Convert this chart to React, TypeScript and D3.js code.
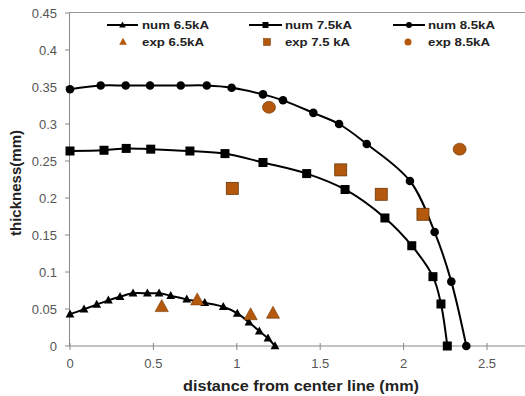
import React from "react";
import * as d3 from "d3";

const num65x = [0, 0.084, 0.16, 0.23, 0.3, 0.378, 0.464, 0.534, 0.604, 0.7, 0.808, 0.919, 1.003, 1.073, 1.135, 1.187, 1.229];
const num65y = [0.043, 0.0496, 0.0559, 0.0617, 0.0666, 0.0712, 0.0712, 0.0712, 0.068, 0.063, 0.0585, 0.053, 0.044, 0.032, 0.02, 0.0104, 0];
const num75x = [0, 0.204, 0.337, 0.484, 0.719, 0.929, 1.157, 1.419, 1.649, 1.888, 2.049, 2.176, 2.224, 2.262];
const num75y = [0.2635, 0.2645, 0.267, 0.266, 0.2635, 0.26, 0.248, 0.233, 0.2115, 0.173, 0.1355, 0.0937, 0.0568, 0];
const num85x = [0, 0.184, 0.334, 0.48, 0.664, 0.82, 0.969, 1.157, 1.277, 1.459, 1.613, 1.779, 2.038, 2.186, 2.286, 2.376];
const num85y = [0.347, 0.352, 0.352, 0.352, 0.352, 0.352, 0.349, 0.34, 0.332, 0.315, 0.3, 0.273, 0.223, 0.154, 0.087, 0];
const exp65x = [0.55, 0.763, 1.083, 1.217];
const exp65y = [0.053, 0.062, 0.042, 0.044];
const exp75x = [0.973, 1.623, 1.866, 2.116];
const exp75y = [0.213, 0.238, 0.205, 0.178];
const exp85x = [1.193, 2.336];
const exp85y = [0.3226, 0.266];
const xTicks = [0, 0.5, 1, 1.5, 2, 2.5];
const yTicks = [0, 0.05, 0.1, 0.15, 0.2, 0.25, 0.3, 0.35, 0.4, 0.45];

const BROWN = "#B3580C";
const FONT = "Liberation Sans, Arial, sans-serif";

const zip = (xs: number[], ys: number[]) => xs.map((x, i) => [x, ys[i]] as [number, number]);

export default function App() {
  const W = 525, H = 396;
  const x = d3.scaleLinear().domain([0, 2.75]).range([70, 70 + 166.8 * 2.75]);
  const y = d3.scaleLinear().domain([0, 0.45]).range([346, 13]);
  const line = d3.line<[number, number]>().x(d => x(d[0])).y(d => y(d[1])).curve(d3.curveCatmullRom.alpha(0.5));
  const tri = (cx: number, cy: number, s: number) =>
    `M${cx},${cy - s * 0.6}L${cx + s * 0.55},${cy + s * 0.4}L${cx - s * 0.55},${cy + s * 0.4}Z`;

  const d65 = zip(num65x, num65y);
  const d75 = zip(num75x, num75y);
  const d85 = zip(num85x, num85y);

  return (
    <svg width={W} height={H} style={{ position: "absolute", left: 0, top: 0, background: "#fff" }} fontFamily={FONT}>
      <rect width={W} height={H} fill="#fff" />
      {/* frame */}
      <line x1={69.5} x2={W} y1={12.5} y2={12.5} stroke="#999" strokeWidth={1} />
      <line x1={69.5} x2={69.5} y1={12.5} y2={346} stroke="#888" strokeWidth={1} />
      <line x1={69.5} x2={W} y1={346} y2={346} stroke="#888" strokeWidth={1} />
      {yTicks.map(t => (
        <g key={"y" + t}>
          <line x1={65} x2={70} y1={y(t)} y2={y(t)} stroke="#888" />
          <text x={57} y={y(t)} dy="0.35em" textAnchor="end" fontSize={13} fill="#555">{String(t)}</text>
        </g>
      ))}
      {xTicks.map(t => (
        <g key={"x" + t}>
          <line x1={x(t)} x2={x(t)} y1={343} y2={350} stroke="#888" />
          <text x={x(t)} y={363} dy="0.35em" textAnchor="middle" fontSize={13} fill="#555">{String(t)}</text>
        </g>
      ))}
      <text x={301} y={391} textAnchor="middle" fontSize={15.5} fontWeight="bold" fill="#222" textLength={236} lengthAdjust="spacingAndGlyphs">distance from center line (mm)</text>
      <text transform="translate(21,183) rotate(-90)" textAnchor="middle" fontSize={15} fontWeight="bold" fill="#222" textLength={106} lengthAdjust="spacingAndGlyphs">thickness(mm)</text>

      {/* curves */}
      <path d={line(d65) || ""} fill="none" stroke="#000" strokeWidth={2} />
      <path d={line(d75) || ""} fill="none" stroke="#000" strokeWidth={2} />
      <path d={line(d85) || ""} fill="none" stroke="#000" strokeWidth={2} />
      {d65.map((p, i) => <path key={"t" + i} d={tri(x(p[0]), y(p[1]), 8)} fill="#000" />)}
      {d75.map((p, i) => <rect key={"s" + i} x={x(p[0]) - 4.5} y={y(p[1]) - 4.5} width={9} height={9} fill="#000" />)}
      {d85.map((p, i) => <circle key={"c" + i} cx={x(p[0])} cy={y(p[1])} r={4.3} fill="#000" />)}

      {/* experimental */}
      {zip(exp65x, exp65y).map((p, i) => <path key={"et" + i} d={tri(x(p[0]), y(p[1]), 12)} fill={BROWN} stroke="#7a3a05" strokeWidth={0.6} />)}
      {zip(exp75x, exp75y).map((p, i) => <rect key={"es" + i} x={x(p[0]) - 6} y={y(p[1]) - 6} width={12} height={12} fill={BROWN} stroke="#6a3505" strokeWidth={0.8} />)}
      {zip(exp85x, exp85y).map((p, i) => <ellipse key={"ec" + i} cx={x(p[0])} cy={y(p[1])} rx={6.5} ry={6} fill={BROWN} stroke="#6a3505" strokeWidth={0.6} />)}

      {/* legend */}
      <g fontSize={11.5} fontWeight="bold" fill="#222">
        <line x1={107} x2={138} y1={25} y2={25} stroke="#000" strokeWidth={2} />
        <path d={tri(122.5, 25, 6)} fill="#000" />
        <text x={142} y={25} dy="0.35em" textLength={67} lengthAdjust="spacingAndGlyphs">num 6.5kA</text>
        <line x1={249} x2={282} y1={25} y2={25} stroke="#000" strokeWidth={2} />
        <rect x={262.5} y={22} width={6} height={6} fill="#000" />
        <text x={285} y={25} dy="0.35em" textLength={67} lengthAdjust="spacingAndGlyphs">num 7.5kA</text>
        <line x1={393} x2={425} y1={25} y2={25} stroke="#000" strokeWidth={2} />
        <circle cx={409} cy={25} r={3} fill="#000" />
        <text x={428} y={25} dy="0.35em" textLength={67} lengthAdjust="spacingAndGlyphs">num 8.5kA</text>

        <path d={tri(123, 42, 7)} fill={BROWN} />
        <text x={142} y={42} dy="0.35em" textLength={62} lengthAdjust="spacingAndGlyphs">exp 6.5kA</text>
        <rect x={263.5} y={38.5} width={7} height={7} fill={BROWN} stroke="#6a3505" strokeWidth={0.5} />
        <text x={285} y={42} dy="0.35em" textLength={65} lengthAdjust="spacingAndGlyphs">exp 7.5 kA</text>
        <circle cx={408} cy={42} r={3.5} fill={BROWN} />
        <text x={428} y={42} dy="0.35em" textLength={62} lengthAdjust="spacingAndGlyphs">exp 8.5kA</text>
      </g>
    </svg>
  );
}
